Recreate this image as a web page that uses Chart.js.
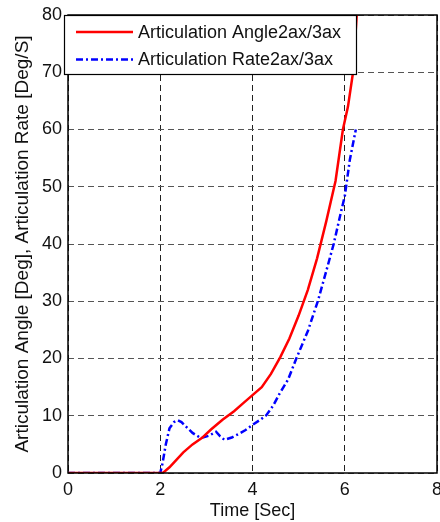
<!DOCTYPE html>
<html lang="en">
<head>
    <meta charset="UTF-8">
    <title>Articulation Angle / Rate</title>
    <script src="https://cdn.jsdelivr.net/npm/chart.js"></script>
    <style>
        html, body { margin: 0; padding: 0; background: #fff; overflow: hidden; }
        canvas { display: block; }
    </style>
</head>
<body>
    <canvas id="artChart" width="440" height="522"></canvas>

    <script>
        // articulation angle (deg) over time (sec)
        const angleTime = [0, 2.05, 2.1, 2.2, 2.35, 2.5, 2.7, 2.9, 3.1, 3.35, 3.6, 3.8, 4.0, 4.2, 4.4,
            4.6, 4.8, 5.0, 5.2, 5.4, 5.6, 5.8, 5.96, 6.07, 6.18, 6.22, 6.26];
        const angleValues = [0, 0, 0.3, 1.0, 2.3, 3.6, 5.0, 6.1, 7.6, 9.3, 10.8, 12.2, 13.6, 15.0, 17.3,
            20.2, 23.5, 27.5, 32.0, 37.5, 44.0, 51.0, 60.0, 64.0, 70.0, 75.0, 80.0];

        // articulation rate (deg/s) over time (sec)
        const rateTime = [0, 2.0, 2.05, 2.12, 2.2, 2.3, 2.38, 2.46, 2.56, 2.7, 2.88, 3.05, 3.21, 3.3, 3.39,
            3.55, 3.72, 3.85, 4.0, 4.15, 4.3, 4.45, 4.59, 4.77, 4.95, 5.2, 5.42, 5.6, 5.76, 5.93, 6.0, 6.11, 6.24];
        const rateValues = [0, 0, 1.7, 5.0, 7.8, 8.9, 9.2, 8.9, 8.1, 7.0, 6.1, 6.5, 7.2, 6.4, 5.8,
            6.2, 6.9, 7.5, 8.4, 9.2, 10.1, 11.8, 13.9, 16.3, 20.0, 24.8, 30.1, 35.3, 40.0, 46.0, 48.3, 54.7, 60.0];

        const xTicks = [0, 2, 4, 6, 8];
        const yTicks = [0, 10, 20, 30, 40, 50, 60, 70, 80];

        const labelFont = { family: "'Liberation Sans', Arial, sans-serif", size: 18 };

        // box around the plot + legend drawn inside the axes (top-left)
        const boxLegend = {
            id: 'boxLegend',
            afterDraw(chart) {
                const { ctx, chartArea: a } = chart;
                ctx.save();
                ctx.strokeStyle = '#000';
                ctx.lineWidth = 1.5;
                ctx.strokeRect(a.left, a.top, a.right - a.left, a.bottom - a.top);

                const bx = 64.5, by = 15.5, bw = 292, bh = 59;
                ctx.fillStyle = '#fff';
                ctx.fillRect(bx, by, bw, bh);
                ctx.lineWidth = 1.2;
                ctx.strokeStyle = '#000';
                ctx.strokeRect(bx, by, bw, bh);

                ctx.font = "18px 'Liberation Sans', Arial, sans-serif";
                ctx.textBaseline = 'middle';
                chart.data.datasets.forEach((ds, i) => {
                    const y = 32 + i * 27.5;
                    ctx.beginPath();
                    ctx.setLineDash(ds.borderDash || []);
                    ctx.strokeStyle = ds.borderColor;
                    ctx.lineWidth = ds.borderWidth;
                    ctx.moveTo(76, y);
                    ctx.lineTo(133, y);
                    ctx.stroke();
                    ctx.setLineDash([]);
                    ctx.fillStyle = '#111';
                    ctx.fillText(ds.label, 138, y + 1);
                });
                ctx.restore();
            }
        };

        const ctx = document.getElementById('artChart').getContext('2d');
        const artChart = new Chart(ctx, {
            type: 'line',
            data: {
                datasets: [{
                    label: 'Articulation Angle2ax/3ax',
                    data: angleTime.map((t, i) => ({ x: t, y: angleValues[i] })),
                    borderColor: '#ff0000',
                    borderWidth: 2.5,
                    pointRadius: 0,
                    tension: 0,
                    fill: false
                }, {
                    label: 'Articulation Rate2ax/3ax',
                    data: rateTime.map((t, i) => ({ x: t, y: rateValues[i] })),
                    borderColor: '#0000ff',
                    borderWidth: 2.5,
                    borderDash: [7, 3, 2, 3],
                    pointRadius: 0,
                    tension: 0,
                    fill: false
                }]
            },
            options: {
                responsive: false,
                animation: false,
                devicePixelRatio: 1,
                layout: { padding: { top: 15, right: 3, left: 0, bottom: 0 } },
                plugins: {
                    legend: { display: false },
                    tooltip: { enabled: false }
                },
                scales: {
                    x: {
                        type: 'linear',
                        min: 0,
                        max: 8,
                        afterBuildTicks: s => { s.ticks = xTicks.map(v => ({ value: v })); },
                        afterFit: s => { s.height = 49; s.paddingRight = 0; s.paddingLeft = 0; },
                        grid: { color: '#222', lineWidth: 1, drawTicks: false },
                        border: { display: false, dash: [6, 4] },
                        ticks: { color: '#111', font: labelFont, padding: 6, maxRotation: 0 },
                        title: {
                            display: true,
                            text: 'Time [Sec]',
                            color: '#111',
                            font: labelFont,
                            padding: { top: 0, bottom: 0 }
                        }
                    },
                    y: {
                        min: 0,
                        max: 80,
                        afterBuildTicks: s => { s.ticks = yTicks.map(v => ({ value: v })); },
                        afterFit: s => { s.width = 68; s.paddingTop = 0; s.paddingBottom = 0; },
                        grid: { color: '#555', lineWidth: 1, drawTicks: false },
                        border: { display: false, dash: [6, 4] },
                        ticks: { color: '#111', font: labelFont, padding: 6 },
                        title: {
                            display: true,
                            text: 'Articulation Angle [Deg], Articulation Rate [Deg/S]',
                            color: '#111',
                            font: { family: labelFont.family, size: 19 },
                            padding: { top: 11, bottom: 0 }
                        }
                    }
                }
            },
            plugins: [boxLegend]
        });
    </script>
</body>
</html>
